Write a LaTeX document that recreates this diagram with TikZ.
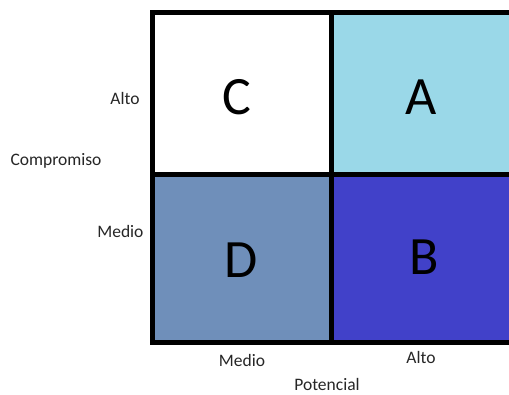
\documentclass[tikz,border=0pt]{standalone}
\usepackage{fontspec}
\setmainfont{Carlito}
\definecolor{cA}{HTML}{9AD8E8}
\definecolor{cB}{HTML}{4141C9}
\definecolor{cD}{HTML}{6F8FBA}
\begin{document}
\begin{tikzpicture}[x=1pt,y=-1pt,
  cell/.style={draw=black,line width=5pt},
  big/.style={font=\fontsize{54}{54}\selectfont},
  lab/.style={font=\fontsize{17.5}{19}\selectfont,text=black!85}]
\useasboundingbox (0,0) rectangle (509,394);
\clip (0,0) rectangle (509,394);
\fill[white] (0,0) rectangle (509,394);
\filldraw[cell,fill=white] (152,12) rectangle (331.5,174.5);
\filldraw[cell,fill=cA] (331.5,12) rectangle (520,174.5);
\filldraw[cell,fill=cD] (152,174.5) rectangle (331.5,342);
\filldraw[cell,fill=cB] (331.5,174.5) rectangle (520,342);
\node[big] (c) at (237,97) {C};
\node[big] (a) at (421,97) {A};
\node[big] (d) at (241,260) {D};
\node[big] (b) at (424,257) {B};
\node[lab,anchor=east] (altoy) at (143,98) {Alto};
\node[lab,anchor=west] (comp) at (7,161) {Compromiso};
\node[lab,anchor=east] (medioy) at (147,231) {Medio};
\node[lab] (mediox) at (242,360) {Medio};
\node[lab] (altox) at (421,357) {Alto};
\node[lab] (pot) at (327,384) {Potencial};
\end{tikzpicture}
\end{document}
